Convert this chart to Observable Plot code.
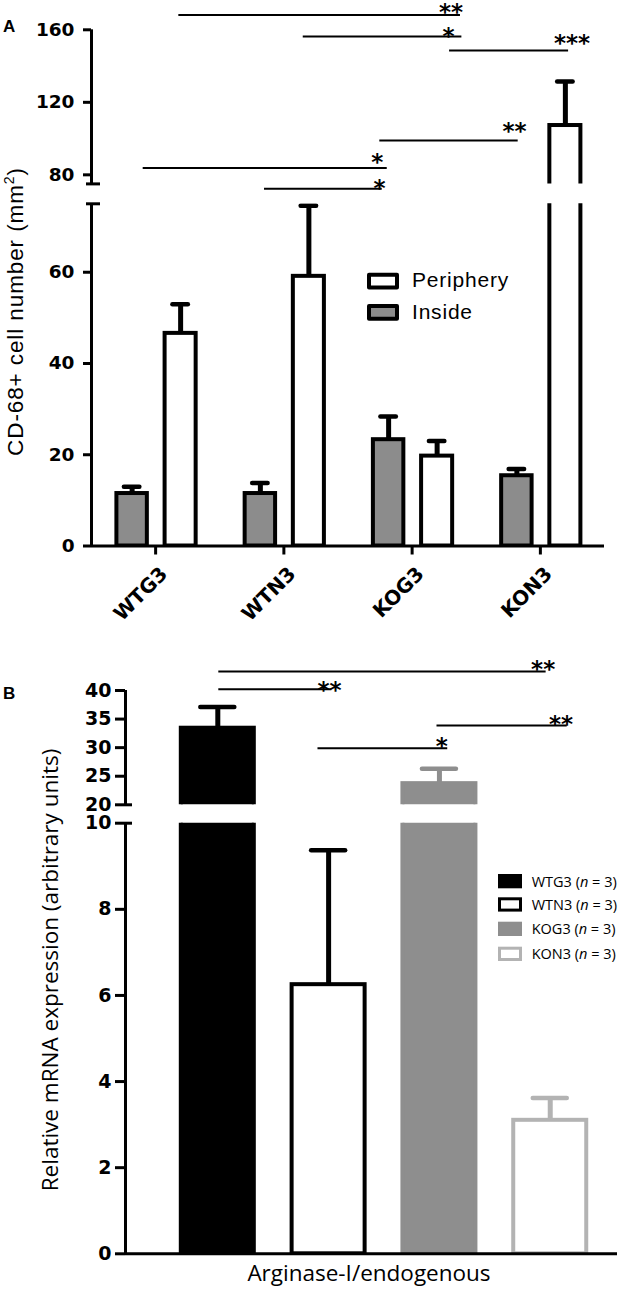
<!DOCTYPE html>
<html><head><meta charset="utf-8">
<script src="https://cdn.jsdelivr.net/npm/d3@7"></script>
<script src="https://cdn.jsdelivr.net/npm/@observablehq/plot@0.6"></script>
<style>
body{margin:0;background:#fff;}
#wrap{position:relative;width:622px;height:1289px;overflow:hidden;background:#fff;}
#wrap > svg{position:absolute;left:0;top:0;}
</style></head><body><div id="wrap"></div>
<script>
// ---------- Panel A data ----------
const groupsA = ["WTG3", "WTN3", "KOG3", "KON3"];
const insideA = [11.5, 11.5, 23.3, 15.4];
const insideErrA = [13.0, 13.8, 28.4, 16.9];
const periA = [46.6, 59.1, 19.7, 107.2];
const periErrA = [53.0, 74.6, 23.0, 131.5];
const ticksALow = [0, 20, 40, 60];
const ticksAHigh = [80, 120, 160];
const breakA = 75;
const sigA_x1 = [0.181, 1.151, 2.292, 1.748, -0.097, 0.849];
const sigA_x2 = [2.377, 2.388, 3.220, 2.827, 1.806, 1.767];
const sigA_y = [168.1, 156.3, 148.6, 98.9, 83.75, 72.3];
const starA_label = ["**", "*", "***", "**", "*", "*"];
const starA_x = [2.303, 2.284, 3.247, 2.798, 1.728, 1.746];
const starA_y = [172.0, 159.2, 155.4, 106.6, 89.7, 75.0];

// ---------- Panel B data ----------
const groupsB = ["WTG3", "WTN3", "KOG3", "KON3"];
const valuesB = [33.4, 6.25, 23.7, 3.10];
const errB = [37.1, 9.37, 26.3, 3.62];
const fillB = ["#000000", "#ffffff", "#8e8e8e", "#ffffff"];
const strokeB = ["#000000", "#000000", "#8e8e8e", "#b3b3b3"];
const nB = [3, 3, 3, 3];
const ticksBLow = [0, 2, 4, 6, 8, 10];
const ticksBHigh = [20, 25, 30, 35, 40];
const breakBLow = 10, breakBHigh = 20;
const sigB_x1 = [0.009, 0.009, 1.978, 0.904];
const sigB_x2 = [2.963, 1.029, 3.153, 2.075];
const sigB_y = [43.32, 40.23, 33.88, 29.91];
const starB_label = ["**", "**", "**", "*"];
const starB_x = [2.936, 1.008, 3.097, 2.022];
const starB_y = [44.49, 40.87, 34.88, 31.08];

// ---------- tables ----------
const inA = groupsA.map((g, i) => ({group: g, i, value: insideA[i], err: insideErrA[i]}));
const peA = groupsA.map((g, i) => ({group: g, i, value: periA[i], err: periErrA[i]}));
const labelsA = groupsA.map((g, i) => ({group: g, i}));
const sigA = sigA_y.map((y, k) => ({x1: sigA_x1[k], x2: sigA_x2[k], y}));
const starsA = starA_label.map((t, k) => ({x: starA_x[k], y: starA_y[k], t}));
const rowsB = groupsB.map((g, i) => ({group: g, i, value: valuesB[i], err: errB[i], fill: fillB[i], stroke: strokeB[i]}));
const sigB = sigB_y.map((y, k) => ({x1: sigB_x1[k], x2: sigB_x2[k], y}));
const starsB = starB_label.map((t, k) => ({x: starB_x[k], y: starB_y[k], t}));

const wrap = document.getElementById("wrap");
const W = 622;
const bold = {fontSize: 18.5, fontWeight: "bold", fontFamily: "DejaVu Sans"};
const starStyle = {fontSize: 23, fontWeight: "bold", fontFamily: "DejaVu Sans", dy: 5};

// ---------- Panel A ----------
const xDomA = [-0.5, 3.5];
const baseA = {width: W, marginLeft: 91, marginRight: 18, style: {background: "transparent", overflow: "visible"}};
function dataMarksA(keep) {
  const band = {x1: d => d.i - 0.5, x2: d => d.i + 0.5};
  return [
    Plot.rect(inA, {...band, y1: () => 0, y2: "value", insetLeft: 25.4, insetRight: 72.4, fill: "#8c8c8c", stroke: "black", strokeWidth: 4, clip: true}),
    Plot.rect(peA, {...band, y1: () => 0, y2: "value", insetLeft: 73.6, insetRight: 23.6, fill: "white", stroke: "black", strokeWidth: 4, clip: true}),
    Plot.ruleX(inA, {filter: keep, x: "i", y1: "value", y2: "err", dx: -23.5, strokeWidth: 5, clip: true}),
    Plot.ruleX(peA, {filter: keep, x: "i", y1: "value", y2: "err", dx: 25, strokeWidth: 5, clip: true}),
    Plot.ruleY(inA, {filter: keep, ...band, y: "err", insetLeft: 32.9, insetRight: 79.9, strokeWidth: 4.5, strokeLinecap: "round", clip: true}),
    Plot.ruleY(peA, {filter: keep, ...band, y: "err", insetLeft: 81.4, insetRight: 31.4, strokeWidth: 4.5, strokeLinecap: "round", clip: true})
  ];
}
const upA = Plot.plot({
  ...baseA, height: 200, marginTop: 29.3, marginBottom: 16.6,
  x: {domain: xDomA, axis: null},
  y: {domain: [breakA, 160]},
  marks: [
    ...dataMarksA(d => d.err > breakA),
    Plot.ruleX([xDomA[0]], {y1: () => breakA, y2: () => 160, strokeWidth: 3}),
    Plot.axisY({ticks: ticksAHigh, tickSize: 8, tickPadding: 9, strokeWidth: 3, label: null, ...bold}),
    Plot.axisY({ticks: [breakA], tickSize: 14, dx: 9, strokeWidth: 3, tickFormat: () => "", label: null}),
    Plot.ruleY(sigA, {y: "y", x1: "x1", x2: "x2", strokeWidth: 2}),
    Plot.text(starsA, {x: "x", y: "y", text: "t", ...starStyle})
  ]
});
const loA = Plot.plot({
  ...baseA, height: 626, marginTop: 203.3, marginBottom: 80.5,
  x: {domain: xDomA, axis: null},
  y: {domain: [0, breakA]},
  marks: [
    ...dataMarksA(d => d.value < breakA),
    Plot.ruleX([xDomA[0]], {y1: () => 0, y2: () => breakA, strokeWidth: 3}),
    Plot.ruleY([0], {strokeWidth: 3}),
    Plot.axisY({ticks: ticksALow, tickSize: 8, tickPadding: 9, strokeWidth: 3, label: null, ...bold}),
    Plot.axisY({ticks: [breakA], tickSize: 14, dx: 9, strokeWidth: 3, tickFormat: () => "", label: null}),
    Plot.axisX({ticks: [0, 1, 2, 3], tickSize: 9, strokeWidth: 3, tickFormat: () => "", label: null}),
    Plot.text(labelsA, {x: "i", frameAnchor: "bottom", text: "group", rotate: -45, textAnchor: "end", lineAnchor: "top",
      dx: 3, dy: 19, fontSize: 20, fontWeight: "bold", fontFamily: "DejaVu Sans"})
  ]
});

// ---------- Panel B ----------
const xDomB = [-0.833, 3.607];
const baseB = {width: W, marginLeft: 125, marginRight: 5, color: {type: "identity"}, style: {background: "transparent", overflow: "visible"}};
function dataMarksB() {
  const band = {x1: d => d.i - 0.5, x2: d => d.i + 0.5};
  return [
    Plot.rect(rowsB, {...band, y1: () => 0, y2: "value", insetLeft: 18.9, insetRight: 18.9, fill: "fill", stroke: "stroke", strokeWidth: 4, clip: true}),
    Plot.ruleX(rowsB, {x: "i", y1: "value", y2: "err", stroke: "stroke", strokeWidth: 5, clip: true}),
    Plot.ruleY(rowsB, {...band, y: "err", insetLeft: 38.4, insetRight: 38.4, stroke: "stroke", strokeWidth: 4.5, strokeLinecap: "round", clip: true})
  ];
}
const boldB = {fontSize: 19, fontWeight: "bold", fontFamily: "DejaVu Sans"};
const upB = Plot.plot({
  ...baseB, height: 825, marginTop: 690, marginBottom: 20.7,
  x: {domain: xDomB, axis: null},
  y: {domain: [breakBHigh, 40]},
  marks: [
    ...dataMarksB(),
    Plot.ruleX([xDomB[0]], {y1: () => breakBHigh, y2: () => 40, strokeWidth: 3}),
    Plot.axisY({ticks: ticksBHigh, tickSize: 10, tickPadding: 4, strokeWidth: 3, label: null, ...boldB}),
    Plot.axisY({ticks: [breakBHigh], tickSize: 7, dx: 7, strokeWidth: 3, tickFormat: () => "", label: null}),
    Plot.ruleY(sigB, {y: "y", x1: "x1", x2: "x2", strokeWidth: 2}),
    Plot.text(starsB, {x: "x", y: "y", text: "t", ...starStyle})
  ]
});
const loB = Plot.plot({
  ...baseB, height: 1289, marginTop: 822.7, marginBottom: 35.7,
  x: {domain: xDomB, axis: null},
  y: {domain: [0, breakBLow]},
  marks: [
    ...dataMarksB(),
    Plot.ruleX([xDomB[0]], {y1: () => 0, y2: () => breakBLow, strokeWidth: 3}),
    Plot.ruleY([0], {strokeWidth: 3}),
    Plot.axisY({ticks: ticksBLow, tickSize: 10, tickPadding: 4, strokeWidth: 3, label: null, ...boldB}),
    Plot.axisY({ticks: [breakBLow], tickSize: 7, dx: 7, strokeWidth: 3, tickFormat: () => "", label: null})
  ]
});

[upA, loA, upB, loB].forEach(p => wrap.append(p));

// ---------- titles, panel letters and legends ----------
const ov = d3.create("svg").attr("width", W).attr("height", 1289)
  .style("position", "absolute").style("left", 0).style("top", 0);
ov.append("text").attr("x", 3).attr("y", 32).attr("font-family", "Liberation Sans, Arial").attr("font-weight", "bold").attr("font-size", 17).text("A");
ov.append("text").attr("x", 3).attr("y", 699).attr("font-family", "Liberation Sans, Arial").attr("font-weight", "bold").attr("font-size", 17).text("B");

// y title A
const ta = ov.append("text").attr("transform", "translate(22.5,311.5) rotate(-90)")
  .attr("text-anchor", "middle").attr("font-family", "Liberation Sans, Arial").attr("font-size", 22.5).attr("letter-spacing", 0.9);
ta.append("tspan").text("CD-68+ cell number (mm");
ta.append("tspan").attr("dy", -9).attr("font-size", 14).text("2");
ta.append("tspan").attr("dy", 9).text(")");

// legend A
const legA = [{label: "Periphery", fill: "white", y: 274.7, base: 287.3}, {label: "Inside", fill: "#8c8c8c", y: 306, base: 319.3}];
legA.forEach(d => {
  ov.append("rect").attr("x", 369).attr("y", d.y).attr("width", 28).attr("height", 12.7)
    .attr("fill", d.fill).attr("stroke", "black").attr("stroke-width", 4).attr("stroke-linejoin", "round");
  ov.append("text").attr("x", 412).attr("y", d.base).attr("font-family", "Liberation Sans, Arial")
    .attr("font-size", 21).attr("letter-spacing", 0.8).text(d.label);
});

// y title B
ov.append("text").attr("transform", "translate(58,970) rotate(-90)").attr("text-anchor", "middle")
  .attr("font-family", "Open Sans").attr("font-size", 22.5).text("Relative mRNA expression (arbitrary units)");
// x title B
ov.append("text").attr("x", 369).attr("y", 1281).attr("text-anchor", "middle")
  .attr("font-family", "Open Sans").attr("font-size", 22.5).text("Arginase-I/endogenous");

// legend B
const legBY = [874, 897.3, 921.7, 946.7];
groupsB.forEach((g, i) => {
  const outlined = fillB[i] === "#ffffff";
  ov.append("rect").attr("x", outlined ? 499.5 : 498).attr("y", outlined ? legBY[i] + 1.5 : legBY[i])
    .attr("width", outlined ? 21 : 24).attr("height", outlined ? 11.3 : 14.3)
    .attr("fill", fillB[i]).attr("stroke", outlined ? strokeB[i] : "none").attr("stroke-width", 3);
  const t = ov.append("text").attr("x", 531.7).attr("y", legBY[i] + 12.5).attr("font-family", "Open Sans").attr("font-size", 14.5);
  t.append("tspan").text(g + " (");
  t.append("tspan").attr("font-style", "italic").text("n");
  t.append("tspan").text(" = " + nB[i] + ")");
});
wrap.append(ov.node());
</script>
</body></html>
